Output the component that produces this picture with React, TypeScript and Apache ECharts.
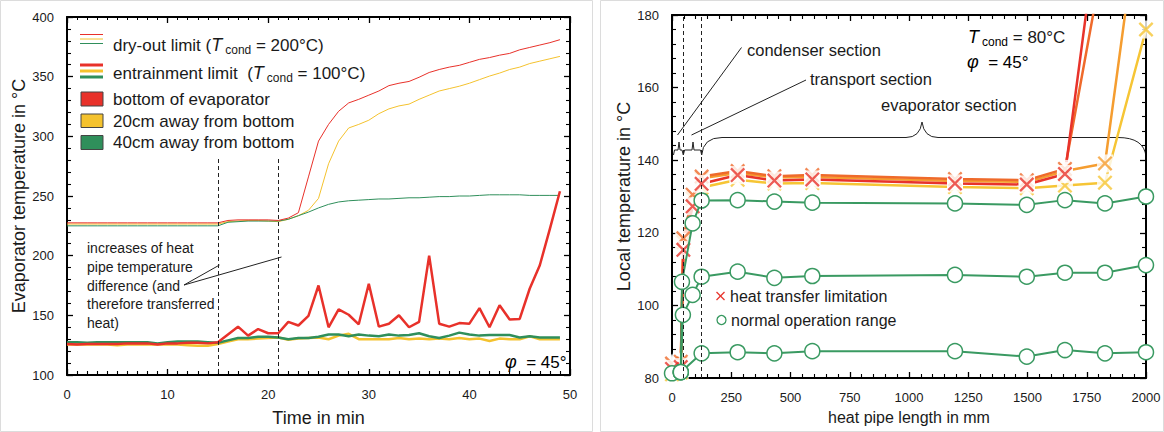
import React, { useEffect, useRef } from "react";
import * as echarts from "echarts";

const FONT = "'Liberation Sans', Arial, Helvetica, sans-serif";
const TXT = "#1a1a1a";

// ---------- Left panel: evaporator temperature vs time ----------
const timeMin = [0,1,2,3,4,5,6,7,8,9,10,11,12,13,14,15,16,17,18,19,20,21,22,23,24,25,26,27,28,29,30,31,32,33,34,35,36,37,38,39,40,41,42,43,44,45,46,47,48,49];

const dryRed = [227.5,227.5,227.5,227.5,227.5,227.5,227.5,227.5,227.5,227.5,227.5,227.5,227.5,227.5,227.5,227.5,
  229.5,230,230,230,230,229.5,231.5,236,266,296,310,321,328,331,334.5,338,342.5,344.5,346,349.5,353.5,356,358,359.5,362,364.5,366,368,369.5,372.5,374.5,376.5,378.5,381];
const dryYellow = [226.5,226.5,226.5,226.5,226.5,226.5,226.5,226.5,226.5,226.5,226.5,226.5,226.5,226.5,226.5,226.5,
  228.5,229,229.5,229.5,229,228.5,230.5,233.5,238,248,277,296,307,310,313.5,319,323,325.5,327,331,334.5,338,340,342,344.5,347.5,350.5,353,356,358,361,363,365,367];
const dryGreen = [225,225,225,225,225,225,225,225,225,225,225,225,225,225,225,225,
  228,228.5,229,229,229,229,230.5,233.5,236.5,240,243,245,246,246.5,247,247.5,247.5,248,248.5,248.5,249,249.5,249.5,250,250,250.5,251,251,251,251,250.5,250.5,250.5,250.5];

const entRed = [126,125.5,126,126,126,126,126.5,126.5,126.5,125.5,126.5,126.5,127,127,126.5,127.5,
  134,140.5,133,138.5,135,135,144.5,141.5,149.5,175,140,155,150.5,142.5,176.5,140.5,143,150,140,144.5,200,143,140.5,143.5,143,156,140,158.5,146.5,147,172.5,192,222.5,254];
const entYellow = [125.5,125.5,125.5,125.5,125.5,125,125.5,125.5,125.5,125.5,125.5,125.5,125,124.5,124.5,126,
  128,130,130,130.5,131,131.5,129.5,130.5,131,131.5,130,133,134.5,130,130,130,130,131,130,130.5,130,130.5,130,131,130,130.5,128.5,130.5,130,130,132.5,130,130,130];
const entGreen = [127.5,127.5,127,127.5,127.5,127.5,127.5,127.5,127.5,126.5,127.5,128,128,128,127.5,127,
  129,131,131,132,132,131.5,130,131,131,132,134,134,132.5,134,133,132.5,134,133,133.5,135,132.5,131,133,135.5,134,133,133.5,133.5,133.5,131.5,132.5,131.5,131.5,131.5];

const stepTimes = [15, 21];

// ---------- Right panel: local temperature along heat pipe ----------
const limitPos = [0, 37, 48, 87, 125, 277, 432, 592, 1194, 1497, 1658, 1827, 2000];
const limRed = [82.5, 83, 115.3, 127.3, 133.5, 135.9, 134.4, 134.7, 133.6, 133.3, 136.2, 220];
const limDarkOrange = [84, 84.5, 118.5, 130.5, 135.5, 137, 135.6, 135.9, 134.8, 134.5, 137.6, 198];
const limLightOrange = [83.5, 84, 117.5, 129.5, 135, 136.5, 135.2, 135.4, 134.3, 134, 137, 139.1, 223];
const limYellow = [81, 81.5, 117, 129, 132.5, 134.6, 133.6, 133.7, 132.6, 132.3, 133, 133.8, 176];

const topPos = [37, 42, 87, 125, 277, 432, 592, 1194, 1497, 1658, 1827, 2000];
const normTop = [81.6, 106.5, 122.6, 128.9, 129.0, 128.6, 128.3, 128.1, 127.7, 129.0, 128.1, 130.0];
const midPos = [37, 46, 87, 125, 277, 432, 592, 1194, 1497, 1658, 1827, 2000];
const normMid = [81.6, 97.4, 102.9, 107.9, 109.3, 107.6, 108.1, 108.4, 107.9, 109.0, 109.0, 111.1];
const botPos = [0, 37, 125, 277, 432, 592, 1194, 1497, 1658, 1827, 2000];
const normBot = [81.3, 81.6, 86.8, 87.1, 86.8, 87.4, 87.4, 85.9, 87.7, 86.8, 87.1];

const sectionBounds = [48, 125];

// colours
const RED = "#e8312a";
const YEL = "#f4c22e";
const GRN = "#2f8f5b";
const R_RED = "#e8332b";
const R_DORG = "#ef6a2b";
const R_LORG = "#f59d30";
const R_YEL = "#f6c535";
const R_GRN = "#3a9a62";

const X_PATH = "path://M0,1.1L1.1,0L10,8.9L8.9,10Z M8.9,0L10,1.1L1.1,10L0,8.9Z";

const zip = (xs: number[], ys: number[]) => ys.map((y, i) => [xs[i], y]);

function axisCommon(extra: any) {
  return {
    type: "value",
    axisLine: { show: true, onZero: false, lineStyle: { color: "#000", width: 2 } },
    axisTick: { show: true, inside: true, length: 6, lineStyle: { color: "#000", width: 1.3 } },
    minorTick: { show: true, length: 4, lineStyle: { color: "#000", width: 1.1 } },
    splitLine: { show: false },
    minorSplitLine: { show: false },
    axisLabel: { color: TXT, fontSize: 13, fontFamily: FONT, margin: 13, formatter: (v: number) => String(v) },
    nameTextStyle: { color: TXT, fontSize: 18, fontFamily: FONT },
    ...extra,
  };
}

export default function App() {
  const ref = useRef<HTMLDivElement>(null);
  useEffect(() => {
    if (!ref.current) return;
    const chart = echarts.init(ref.current, undefined, { renderer: "svg" });

    const xAxes = [
      axisCommon({ gridIndex: 0, min: 0, max: 50, interval: 10, position: "bottom",
        minorTick: { show: true, splitNumber: 10, length: 4, lineStyle: { color: "#000", width: 1.1 } },
        name: "Time in min", nameLocation: "middle", nameGap: 34 }),
      axisCommon({ gridIndex: 0, min: 0, max: 50, interval: 10, position: "top",
        minorTick: { show: true, splitNumber: 10, length: 3, lineStyle: { color: "#000", width: 1 } },
        axisLabel: { show: false } }),
      axisCommon({ gridIndex: 1, min: 0, max: 2000, interval: 250, position: "bottom",
        minorTick: { show: true, splitNumber: 5, length: 4, lineStyle: { color: "#000", width: 1.1 } },
        name: "heat pipe length in mm", nameLocation: "middle", nameGap: 31,
        nameTextStyle: { color: TXT, fontSize: 16, fontFamily: FONT } }),
      axisCommon({ gridIndex: 1, min: 0, max: 2000, interval: 250, position: "top",
        minorTick: { show: true, splitNumber: 5, length: 4, lineStyle: { color: "#000", width: 1.1 } },
        axisLabel: { show: false } }),
    ];
    const yAxes = [
      axisCommon({ gridIndex: 0, min: 100, max: 400, interval: 50, position: "left",
        minorTick: { show: true, splitNumber: 5, length: 4, lineStyle: { color: "#000", width: 1.1 } },
        name: "Evaporator temperature in °C", nameLocation: "middle", nameGap: 36 }),
      axisCommon({ gridIndex: 0, min: 100, max: 400, interval: 50, position: "right",
        minorTick: { show: true, splitNumber: 5, length: 4, lineStyle: { color: "#000", width: 1.1 } },
        axisLabel: { show: false } }),
      axisCommon({ gridIndex: 1, min: 80, max: 180, interval: 20, position: "left",
        minorTick: { show: true, splitNumber: 5, length: 4, lineStyle: { color: "#000", width: 1.1 } },
        name: "Local temperature in °C", nameLocation: "middle", nameGap: 36 }),
      axisCommon({ gridIndex: 1, min: 80, max: 180, interval: 20, position: "right",
        minorTick: { show: true, splitNumber: 5, length: 4, lineStyle: { color: "#000", width: 1.1 } },
        axisLabel: { show: false } }),
    ];

    const leftLine = (name: string, data: number[], color: string, width: number, z: number, extra: any = {}) => ({
      type: "line", name, xAxisIndex: 0, yAxisIndex: 0, z,
      data: zip(timeMin, data), symbol: "none", showSymbol: false,
      lineStyle: { color, width }, itemStyle: { color }, silent: true, ...extra,
    });

    const dashedStep = {
      silent: true, symbol: ["none", "none"], label: { show: false },
      lineStyle: { type: [4, 3], color: "#222", width: 1 },
      data: stepTimes.map((t) => [{ coord: [t, 281] }, { coord: [t, 100] }]),
    };

    const rightLimitLine = (data: number[], color: string) => ({
      type: "line", xAxisIndex: 2, yAxisIndex: 2, z: 2, silent: true,
      data: zip(limitPos, data), symbol: "none", showSymbol: false,
      lineStyle: { color, width: 2.5 }, itemStyle: { color },
    });
    const rightLimitMarks = (data: number[], color: string, z: number) => [
      { type: "scatter", xAxisIndex: 2, yAxisIndex: 2, z, silent: true,
        data: zip(limitPos, data), symbol: "rect", symbolSize: [16, 18],
        itemStyle: { color: "#ffffff" } },
      { type: "scatter", xAxisIndex: 2, yAxisIndex: 2, z, silent: true,
        data: zip(limitPos, data), symbol: X_PATH, symbolSize: 15,
        itemStyle: { color } },
    ];
    const normalLine = (xs: number[], data: number[], extra: any = {}) => ({
      type: "line", xAxisIndex: 2, yAxisIndex: 2, z: 4, silent: true,
      data: zip(xs, data), symbol: "circle", symbolSize: 15, showSymbol: true, showAllSymbol: true,
      lineStyle: { color: R_GRN, width: 2 },
      itemStyle: { color: "#ffffff", borderColor: R_GRN, borderWidth: 1.5 },
      ...extra,
    });

    const sub = (main: number) => ({
      a: { fontSize: main, fontFamily: FONT, fill: TXT, color: TXT, lineHeight: 22 },
      i: { fontSize: main + 1, fontFamily: FONT, fontStyle: "italic", color: TXT, lineHeight: 22 },
      s: { fontSize: 12, fontFamily: FONT, color: TXT, lineHeight: 12, verticalAlign: "bottom", padding: [0, 0, 0, 3] },
    });

    const legendText = (x: number, y: number, text: string, rich?: any) => ({
      type: "text", x, y, silent: true,
      style: { text, fontSize: 17, fontFamily: FONT, fill: TXT, verticalAlign: "middle", align: "left", rich },
    });

    const graphic: any[] = [
      // panel frames
      { type: "rect", shape: { x: 0.5, y: 0.5, width: 592, height: 431 }, style: { fill: "none", stroke: "#dcdcdc", lineWidth: 1 }, silent: true },
      { type: "rect", shape: { x: 600.5, y: 0.5, width: 563, height: 431 }, style: { fill: "none", stroke: "#dcdcdc", lineWidth: 1 }, silent: true },
      // left legend
      { type: "line", shape: { x1: 80, y1: 34.5, x2: 103, y2: 34.5 }, style: { stroke: RED, lineWidth: 1 } },
      { type: "line", shape: { x1: 80, y1: 39, x2: 103, y2: 39 }, style: { stroke: YEL, lineWidth: 1 } },
      { type: "line", shape: { x1: 80, y1: 43.5, x2: 103, y2: 43.5 }, style: { stroke: GRN, lineWidth: 1 } },
      { type: "line", shape: { x1: 80, y1: 65, x2: 103, y2: 65 }, style: { stroke: RED, lineWidth: 3 } },
      { type: "line", shape: { x1: 80, y1: 71, x2: 103, y2: 71 }, style: { stroke: YEL, lineWidth: 3 } },
      { type: "line", shape: { x1: 80, y1: 77, x2: 103, y2: 77 }, style: { stroke: GRN, lineWidth: 3 } },
      { type: "rect", shape: { x: 81, y: 92, width: 22, height: 14 }, style: { fill: RED, stroke: "#444", lineWidth: 1 } },
      { type: "rect", shape: { x: 81, y: 114, width: 22, height: 13.5 }, style: { fill: YEL, stroke: "#444", lineWidth: 1 } },
      { type: "rect", shape: { x: 81, y: 135.5, width: 22, height: 14 }, style: { fill: GRN, stroke: "#444", lineWidth: 1 } },
      legendText(113, 45, "{a|dry-out limit (}{i|T}{s|cond}{a| = 200°C)}", sub(17)),
      legendText(113, 73, "{a|entrainment limit  (}{i|T}{s|cond}{a| = 100°C)}", sub(17)),
      legendText(113, 99, "bottom of evaporator"),
      legendText(113, 121, "20cm away from bottom"),
      legendText(113, 142, "40cm away from bottom"),
      // left annotation
      { type: "text", x: 87, y: 239, silent: true,
        style: { text: "increases of heat\npipe temperature\ndifference (and\ntherefore transferred\nheat)",
          fontSize: 14, fontFamily: FONT, fill: TXT, lineHeight: 18.7, verticalAlign: "top", align: "left" } },
      { type: "line", shape: { x1: 184, y1: 285, x2: 219.5, y2: 265 }, style: { stroke: "#222", lineWidth: 1 } },
      { type: "line", shape: { x1: 184, y1: 285, x2: 281.5, y2: 257 }, style: { stroke: "#222", lineWidth: 1 } },
      { type: "text", x: 505, y: 362, silent: true,
        style: { text: "{i|φ}{a|  = 45°}", verticalAlign: "middle", align: "left",
          rich: { i: { fontSize: 18, fontFamily: FONT, fontStyle: "italic", color: TXT }, a: { fontSize: 17, fontFamily: FONT, color: TXT } } } },
      // right texts
      { type: "text", x: 968, y: 37, silent: true,
        style: { text: "{i|T}{s|cond}{a| = 80°C}", verticalAlign: "middle", align: "left", rich: sub(17) } },
      { type: "text", x: 967, y: 62, silent: true,
        style: { text: "{i|φ}{a|  = 45°}", verticalAlign: "middle", align: "left",
          rich: { i: { fontSize: 18, fontFamily: FONT, fontStyle: "italic", color: TXT }, a: { fontSize: 17, fontFamily: FONT, color: TXT } } } },
      { type: "text", x: 747, y: 49.5, silent: true, style: { text: "condenser section", fontSize: 16.5, fontFamily: FONT, fill: TXT, verticalAlign: "middle" } },
      { type: "text", x: 810, y: 79, silent: true, style: { text: "transport section", fontSize: 16.5, fontFamily: FONT, fill: TXT, verticalAlign: "middle" } },
      { type: "text", x: 881, y: 105, silent: true, style: { text: "evaporator section", fontSize: 16.5, fontFamily: FONT, fill: TXT, verticalAlign: "middle" } },
      { type: "line", shape: { x1: 677.5, y1: 135, x2: 741.5, y2: 47.5 }, style: { stroke: "#222", lineWidth: 1 } },
      { type: "line", shape: { x1: 691.5, y1: 135, x2: 806, y2: 80 }, style: { stroke: "#222", lineWidth: 1 } },
      // small braces (condenser + transport)
      { type: "polyline", shape: { points: [[673.5, 155], [674.5, 150], [678, 150], [679, 142], [680, 150], [682, 150], [683.3, 155], [684.6, 150], [692, 150], [693, 142], [694, 150], [700.5, 150], [701.7, 155]] },
        style: { stroke: "#222", lineWidth: 1, fill: "none" } },
      // evaporator brace
      { type: "bezierCurve", shape: { x1: 701.7, y1: 155, cpx1: 703, cpy1: 137.5, x2: 722, y2: 137.5 }, style: { stroke: "#222", lineWidth: 1, fill: "none" } },
      { type: "line", shape: { x1: 722, y1: 137.5, x2: 906, y2: 137.5 }, style: { stroke: "#222", lineWidth: 1 } },
      { type: "bezierCurve", shape: { x1: 906, y1: 137.5, cpx1: 920, cpy1: 137.5, x2: 922, y2: 122 }, style: { stroke: "#222", lineWidth: 1, fill: "none" } },
      { type: "bezierCurve", shape: { x1: 922, y1: 122, cpx1: 924, cpy1: 137.5, x2: 938, y2: 137.5 }, style: { stroke: "#222", lineWidth: 1, fill: "none" } },
      { type: "line", shape: { x1: 938, y1: 137.5, x2: 1118, y2: 137.5 }, style: { stroke: "#222", lineWidth: 1 } },
      { type: "bezierCurve", shape: { x1: 1118, y1: 137.5, cpx1: 1144, cpy1: 137.5, x2: 1146, y2: 156.5 }, style: { stroke: "#222", lineWidth: 1, fill: "none" } },
      // right legend
      { type: "line", shape: { x1: 716.5, y1: 292, x2: 724.5, y2: 300 }, style: { stroke: R_RED, lineWidth: 1.3 } },
      { type: "line", shape: { x1: 724.5, y1: 292, x2: 716.5, y2: 300 }, style: { stroke: R_RED, lineWidth: 1.3 } },
      { type: "text", x: 730, y: 296, silent: true, style: { text: "heat transfer limitation", fontSize: 16, fontFamily: FONT, fill: TXT, verticalAlign: "middle" } },
      { type: "circle", shape: { cx: 721.5, cy: 320, r: 4.5 }, style: { fill: "#fff", stroke: R_GRN, lineWidth: 1.3 } },
      { type: "text", x: 731, y: 320, silent: true, style: { text: "normal operation range", fontSize: 16, fontFamily: FONT, fill: TXT, verticalAlign: "middle" } },
    ];

    chart.setOption({
      animation: false,
      backgroundColor: "#ffffff",
      textStyle: { fontFamily: FONT },
      grid: [
        { left: 67, top: 17, width: 503, height: 359 },
        { left: 672, top: 15, width: 474, height: 363 },
      ],
      xAxis: xAxes,
      yAxis: yAxes,
      series: [
        leftLine("dry-out 20cm", dryYellow, YEL, 1, 2),
        leftLine("dry-out 40cm", dryGreen, GRN, 1, 2),
        leftLine("dry-out bottom", dryRed, RED, 1, 2, { markLine: dashedStep }),
        leftLine("entrainment 20cm", entYellow, YEL, 2.5, 3),
        leftLine("entrainment 40cm", entGreen, GRN, 2.5, 3),
        leftLine("entrainment bottom", entRed, RED, 2.5, 3),

        rightLimitLine(limYellow, R_YEL),
        rightLimitLine(limLightOrange, R_LORG),
        rightLimitLine(limDarkOrange, R_DORG),
        rightLimitLine(limRed, R_RED),
        ...rightLimitMarks(limYellow, R_YEL, 3),
        ...rightLimitMarks(limLightOrange, R_LORG, 3),
        ...rightLimitMarks(limDarkOrange, R_DORG, 3),
        ...rightLimitMarks(limRed, R_RED, 3),
        normalLine(botPos, normBot, {
          markLine: {
            silent: true, symbol: ["none", "none"], label: { show: false },
            lineStyle: { type: [4, 3], color: "#222", width: 1 },
            data: sectionBounds.map((v) => ({ xAxis: v })),
          },
        }),
        normalLine(midPos, normMid),
        normalLine(topPos, normTop),
      ],
      graphic,
    });

    return () => chart.dispose();
  }, []);

  return (
    <div
      ref={ref}
      style={{ position: "absolute", left: 0, top: 0, width: 1164, height: 432, background: "#fff" }}
    />
  );
}
